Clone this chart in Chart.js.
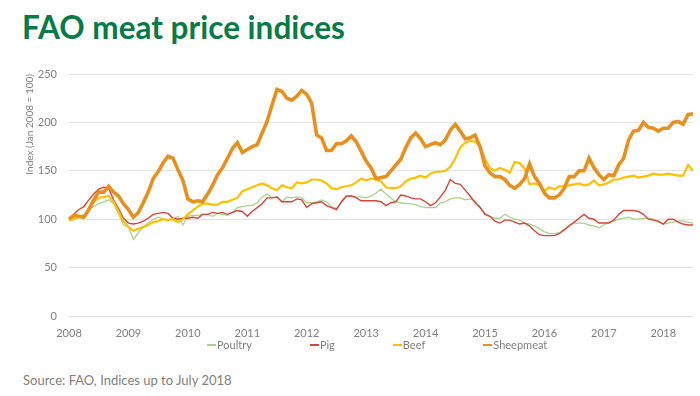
<!DOCTYPE html>
<html>
<head>
<meta charset="utf-8">
<script src="https://cdn.jsdelivr.net/npm/chart.js@4/dist/chart.umd.min.js"></script>
<style>
  html, body { margin: 0; padding: 0; background: #fff; }
  #wrap { position: relative; width: 700px; height: 396px; overflow: hidden; font-family: Lato, 'Open Sans', sans-serif; }
  #title { position: absolute; left: 22px; top: 8px; font-size: 31.5px; font-weight: 700; color: #087a48; white-space: nowrap; }
  #chartBox { position: absolute; left: 0; top: 0; width: 700px; height: 340px; }
  #legend { position: absolute; left: 207px; top: 338px; display: flex; gap: 58px; font-size: 11px; color: #7f7f7f; }
  #legend .item { display: flex; align-items: center; }
  #legend .swatch { display: inline-block; width: 9px; height: 2px; margin-right: 1px; }
  #source { position: absolute; left: 23px; top: 372px; font-size: 13px; color: #7f7f7f; white-space: nowrap; }
</style>
</head>
<body>
<div id="wrap">
  <div id="title">FAO meat price indices</div>
  <div id="chartBox"><canvas id="chart"></canvas></div>
  <div id="legend"></div>
  <div id="source">Source: FAO, Indices up to July 2018</div>
</div>
<script>
// ── Data: monthly indices, Jan 2008 – Jul 2018 (Jan 2008 = 100) ──
const YEARS  = ['2008','2009','2010','2011','2012','2013','2014','2015','2016','2017','2018'];
const MONTHS = ['Jan','Feb','Mar','Apr','May','Jun','Jul','Aug','Sep','Oct','Nov','Dec'];
const LAST_MONTHS = 7; // data stops at July 2018

const poultry = [
  100,101,102,105,110,113,116,118,120,116,106,94,
  92,79,86,92,96,100,102,100,99,100,103,94,
  103,104,104,105,105,103,106,105,104,107,112,113,
  114,114,117,123,126,122,123,118,123,122,123,122,
  117,117,118,120,118,113,111,117,123,124,123,123,
  122,124,127,131,126,122,118,117,116,116,115,113,
  112,112,112,117,118,121,122,122,120,121,119,113,
  106,103,101,101,105,102,100,99,96,95,93,90,
  87,85,85,86,89,94,96,96,96,94,93,91,
  94,97,98,100,101,102,100,100,101,101,100,97,
  95,96,97,98,98,97,96
];
const pig = [
  100,105,110,113,120,126,131,133,132,120,111,101,
  96,95,96,98,101,105,106,107,106,101,100,101,
  101,102,101,105,105,107,106,107,105,107,109,108,
  103,108,112,116,122,122,123,118,118,118,121,120,
  112,116,117,118,114,112,110,118,124,124,122,119,
  119,119,119,118,114,117,118,125,124,122,121,121,
  118,114,117,123,130,141,137,136,130,124,117,112,
  105,103,98,96,99,99,97,95,96,93,88,84,
  83,83,83,85,89,93,97,101,105,101,100,96,
  96,96,99,105,109,109,109,108,105,100,99,98,
  95,100,100,97,95,94,94
];
const beef = [
  99,100,102,102,110,118,122,123,124,118,108,98,
  92,88,90,92,94,97,98,100,99,100,97,100,
  105,109,113,116,116,115,115,118,118,120,122,129,
  131,133,135,137,135,132,130,135,133,132,138,137,
  138,141,141,140,137,132,131,133,134,135,138,142,
  140,142,141,139,133,132,132,134,139,142,143,145,
  143,147,149,149,150,154,163,174,179,181,180,175,
  162,153,150,153,151,148,159,158,152,136,137,135,
  129,133,131,134,134,135,136,137,135,136,140,135,
  136,138,141,141,143,144,145,143,144,145,147,146,
  146,147,146,145,145,156,150
];
const sheepmeat = [
  100,104,103,102,110,120,128,128,134,128,124,116,
  110,102,107,117,128,142,149,158,165,163,151,140,
  121,118,119,118,126,135,146,153,163,173,179,169,
  172,175,177,189,201,218,234,232,225,223,227,233,
  229,220,187,184,171,171,178,178,181,186,180,170,
  160,153,142,143,144,150,156,162,174,184,189,183,
  175,177,179,177,182,192,198,191,183,184,187,175,
  155,148,144,144,141,135,132,136,142,157,144,137,
  127,122,122,125,132,144,144,150,150,163,153,146,
  141,146,145,156,163,182,191,192,200,195,194,191,
  194,194,200,201,198,208,209
];

const SERIES = ['Poultry', 'Pig', 'Beef', 'Sheepmeat'];
const COLORS = ['#a9d18e', '#d6453d', '#ffc000', '#e8901f'];
const WIDTHS = [1.3, 1.4, 2.2, 3.6];
const Y_TICKS = [0, 50, 100, 150, 200, 250];

// category labels: one per month
const labels = [];
YEARS.forEach((y, yi) => {
  const n = yi === YEARS.length - 1 ? LAST_MONTHS : 12;
  for (let m = 0; m < n; m++) labels.push(MONTHS[m] + ' ' + y);
});

const values = [poultry, pig, beef, sheepmeat];
const FONT = 'Lato';

// ── HTML legend (Excel spacing) ──
document.getElementById('legend').innerHTML = SERIES.map((s, i) =>
  `<div class="item"><span class="swatch" style="background:${COLORS[i]}"></span>${s}</div>`).join('');

new Chart(document.getElementById('chart'), {
  type: 'line',
  data: {
    labels,
    datasets: SERIES.map((s, i) => ({
      label: s,
      data: values[i],
      borderColor: COLORS[i],
      backgroundColor: COLORS[i],
      borderWidth: WIDTHS[i],
      pointRadius: 0,
      tension: 0,
      order: SERIES.length - i,   // later series drawn on top, as in Excel
    })),
  },
  options: {
    responsive: true, maintainAspectRatio: false,
    animation: false,
    layout: { padding: { left: 0, right: 7, top: 74, bottom: 0 } },
    plugins: { legend: { display: false }, tooltip: { enabled: false } },
    scales: {
      x: {
        grid: { display: false },
        border: { display: false },
        ticks: {
          autoSkip: false, maxRotation: 0, padding: 3,
          color: '#7f7f7f', font: { family: FONT, size: 11 },
          callback: (v, i) => (i % 12 === 0 ? YEARS[i / 12] : ''),
        },
        afterFit: s => { s.height = 24; },
      },
      y: {
        min: 0, max: 250,
        afterBuildTicks: s => { s.ticks = Y_TICKS.map(v => ({ value: v })); },
        grid: { color: '#e3e3e3', lineWidth: 1, drawTicks: false },
        border: { display: false },
        ticks: { padding: 12, color: '#7f7f7f', font: { family: FONT, size: 11 } },
        title: {
          display: true, text: 'Index (Jan 2008 = 100)', align: 'end',
          color: '#7f7f7f', font: { family: FONT, size: 10 },
          padding: { top: 24, bottom: 0 },
        },
        afterFit: s => { s.width = 69; },
      },
    },
  },
});
</script>
</body>
</html>
